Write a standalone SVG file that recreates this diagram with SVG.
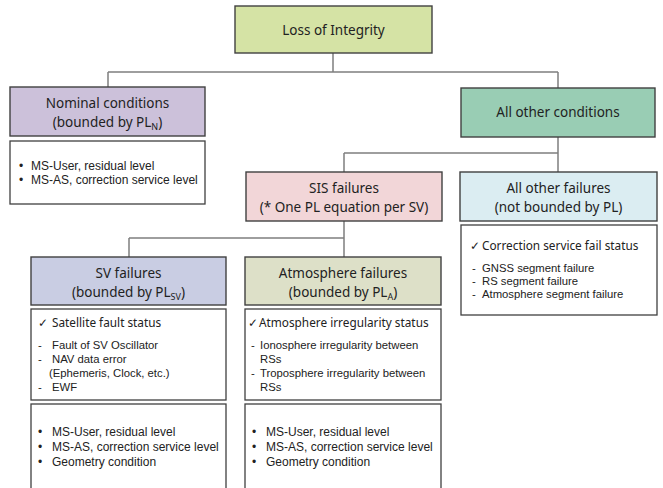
<svg xmlns="http://www.w3.org/2000/svg" width="663" height="488" viewBox="0 0 663 488">
  <style>
    .box { stroke: #404040; stroke-width: 1.4; }
    .list { fill: #ffffff; stroke: #404040; stroke-width: 1.3; }
    .title { font-family: "Noto Sans", "Liberation Sans", sans-serif; font-size: 13.5px; fill: #222222; text-anchor: middle; }
    .sub { font-size: 9px; }
    .item { font-family: "Liberation Sans", Arial, sans-serif; font-size: 12px; fill: #222222; }
    .chk { font-family: "Noto Sans", "DejaVu Sans", sans-serif; font-size: 11.8px; fill: #222222; }
    .dash { font-family: "Liberation Sans", Arial, sans-serif; font-size: 11.3px; fill: #222222; }
    .conn { fill: none; stroke: #7f7f7f; stroke-width: 1.5; }
  </style>
  <rect width="663" height="488" fill="#ffffff"/>

  <!-- tree connectors -->
  <g id="connectors">
    <path class="conn" d="M333,53 V72 M108,72 H558 M108,72 V87 M558,72 V88"/>
    <path class="conn" d="M558,137 V172 M344,153 H558 M344,153 V172"/>
    <path class="conn" d="M344,221 V257 M129,238 H344 M129,238 V257"/>
  </g>

  <g id="loss-of-integrity">
    <rect class="box" x="235" y="6" width="197" height="47" fill="#d5e3a5"/>
    <text class="title" x="333.5" y="35">Loss of Integrity</text>
  </g>

  <g id="nominal-conditions">
    <rect class="box" x="10" y="87" width="195" height="49" fill="#ccc1da"/>
    <text class="title" x="107.5" y="108">Nominal conditions</text>
    <text class="title" x="107.5" y="127">(bounded by PL<tspan class="sub" dy="3">N</tspan><tspan dy="-3">)</tspan></text>
  </g>

  <g id="nominal-list">
    <rect class="list" x="10" y="141" width="195" height="63"/>
    <text class="item" x="19" y="170">•</text>
    <text class="item" x="31" y="170">MS-User, residual level</text>
    <text class="item" x="19" y="184">•</text>
    <text class="item" x="31" y="184">MS-AS, correction service level</text>
  </g>

  <g id="all-other-conditions">
    <rect class="box" x="461" y="88" width="194" height="49" fill="#99cdb4"/>
    <text class="title" x="558" y="117">All other conditions</text>
  </g>

  <g id="sis-failures">
    <rect class="box" x="246" y="172" width="196" height="49" fill="#f2d6d8"/>
    <text class="title" x="344" y="193">SIS failures</text>
    <text class="title" x="344" y="212">(* One PL equation per SV)</text>
  </g>

  <g id="all-other-failures">
    <rect class="box" x="460" y="172" width="197" height="49" fill="#dbedf2"/>
    <text class="title" x="558.5" y="193">All other failures</text>
    <text class="title" x="558.5" y="212">(not bounded by PL)</text>
  </g>

  <g id="all-other-failures-list">
    <rect class="list" x="461" y="225" width="196" height="90"/>
    <text class="chk" x="470" y="250">✓</text>
    <text class="chk" x="482" y="250">Correction service fail status</text>
    <text class="dash" x="472" y="272">-</text>
    <text class="dash" x="482" y="272">GNSS segment failure</text>
    <text class="dash" x="472" y="285">-</text>
    <text class="dash" x="482" y="285">RS segment failure</text>
    <text class="dash" x="472" y="298">-</text>
    <text class="dash" x="482" y="298">Atmosphere segment failure</text>
  </g>

  <g id="sv-failures">
    <rect class="box" x="31" y="257" width="195" height="48" fill="#c9cde3"/>
    <text class="title" x="128.5" y="278">SV failures</text>
    <text class="title" x="128.5" y="297">(bounded by PL<tspan class="sub" dy="3">SV</tspan><tspan dy="-3">)</tspan></text>
  </g>

  <g id="sv-status-list">
    <rect class="list" x="31" y="309" width="195" height="91"/>
    <text class="chk" x="38" y="327">✓</text>
    <text class="chk" x="52" y="327">Satellite fault status</text>
    <text class="dash" x="38" y="349">-</text>
    <text class="dash" x="52" y="349">Fault of SV Oscillator</text>
    <text class="dash" x="38" y="363">-</text>
    <text class="dash" x="52" y="363">NAV data error</text>
    <text class="dash" x="49" y="377" font-size="10.6px">(Ephemeris, Clock, etc.)</text>
    <text class="dash" x="38" y="391">-</text>
    <text class="dash" x="52" y="391">EWF</text>
  </g>

  <g id="sv-bounds-list">
    <rect class="list" x="31" y="404" width="195" height="92"/>
    <text class="item" x="38" y="436">•</text>
    <text class="item" x="52" y="436">MS-User, residual level</text>
    <text class="item" x="38" y="451">•</text>
    <text class="item" x="52" y="451">MS-AS, correction service level</text>
    <text class="item" x="38" y="466">•</text>
    <text class="item" x="52" y="466">Geometry condition</text>
  </g>

  <g id="atmosphere-failures">
    <rect class="box" x="245" y="257" width="196" height="48" fill="#dde0c8"/>
    <text class="title" x="343" y="278">Atmosphere failures</text>
    <text class="title" x="343" y="297">(bounded by PL<tspan class="sub" dy="3">A</tspan><tspan dy="-3">)</tspan></text>
  </g>

  <g id="atmosphere-status-list">
    <rect class="list" x="245" y="309" width="196" height="91"/>
    <text class="chk" x="248" y="327">✓</text>
    <text class="chk" x="259" y="327">Atmosphere irregularity status</text>
    <text class="dash" x="251" y="349">-</text>
    <text class="dash" x="260" y="349">Ionosphere irregularity between</text>
    <text class="dash" x="260" y="363">RSs</text>
    <text class="dash" x="251" y="377">-</text>
    <text class="dash" x="260" y="377">Troposphere irregularity between</text>
    <text class="dash" x="260" y="391">RSs</text>
  </g>

  <g id="atmosphere-bounds-list">
    <rect class="list" x="245" y="404" width="196" height="92"/>
    <text class="item" x="252" y="436">•</text>
    <text class="item" x="266" y="436">MS-User, residual level</text>
    <text class="item" x="252" y="451">•</text>
    <text class="item" x="266" y="451">MS-AS, correction service level</text>
    <text class="item" x="252" y="466">•</text>
    <text class="item" x="266" y="466">Geometry condition</text>
  </g>
</svg>
